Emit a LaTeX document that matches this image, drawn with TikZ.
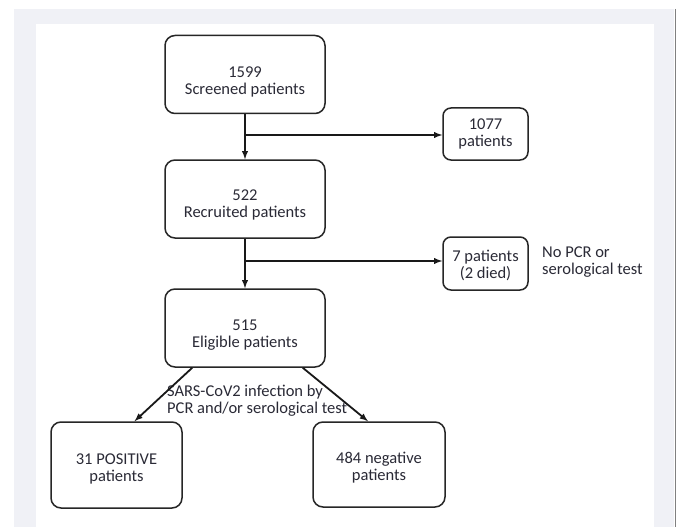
\documentclass[tikz,border=0pt]{standalone}
\usepackage{fontspec}
\setmainfont{Carlito}
\definecolor{bggray}{HTML}{F0F1F6}
\definecolor{textcol}{HTML}{2A2A36}
\newcommand{\drop}[1]{\rule{0pt}{#1}}
\begin{document}
\begin{tikzpicture}[x=1pt,y=-1pt,
  box/.style={draw=black!85,line width=1.5pt,rounded corners=10pt,align=center,
    text=textcol,font=\fontsize{16.5}{17}\selectfont},
  small/.style={box,rounded corners=8pt,minimum width=85pt,minimum height=52pt},
  big/.style={box,minimum width=160pt,minimum height=78pt},
  bottom/.style={box,minimum width=131pt,minimum height=86pt},
  note/.style={align=left,text=textcol,font=\fontsize{16.5}{17}\selectfont,inner sep=0pt},
  arrow/.style={-latex,line width=1.8pt,black!90}]
\useasboundingbox (0,0) rectangle (681,527);
\fill[white] (0,0) rectangle (681,527);
\fill[bggray] (14,9) rectangle (674,527);
\fill[white] (36,24) rectangle (654,527);
\draw[gray,line width=1pt] (675,9) -- (675,527);

\node[big] (screened) at (245,74.5) {\drop{26pt}1599\\Screened patients};
\node[small] (excluded) at (485.5,134) {1077\\patients};
\node[big] (recruited) at (245,199) {\drop{22pt}522\\Recruited patients};
\node[small,minimum height=53pt] (nopcr) at (485.5,263.5) {\drop{15pt}7 patients\\(2 died)};
\node[note,anchor=west] (nopcrnote) at (542,262) {No PCR or\\serological test};
\node[big] (eligible) at (245,328) {\drop{24pt}515\\Eligible patients};
\node[bottom] (positive) at (116.5,465) {\drop{18pt}31 POSITIVE\\patients};
\node[bottom,minimum width=132pt,minimum height=85pt] (negative) at (379,464.5) {\drop{18pt}484 negative\\patients};
\node[note,anchor=west] (infection) at (167,401) {SARS-CoV2 infection by\\PCR and/or serological test};

\coordinate (branch1) at (245,135);
\coordinate (branch2) at (245,261);
\draw[arrow] (screened) -- (recruited);
\draw[arrow] (branch1) -- (branch1 -| excluded.west);
\draw[arrow] (recruited) -- (eligible);
\draw[arrow] (branch2) -- (branch2 -| nopcr.west);
\draw[arrow] ([xshift=28pt]eligible.south west) -- ([xshift=18pt]positive.north);
\draw[arrow] ([xshift=-23pt]eligible.south east) -- ([xshift=-11pt]negative.north);
\end{tikzpicture}
\end{document}
